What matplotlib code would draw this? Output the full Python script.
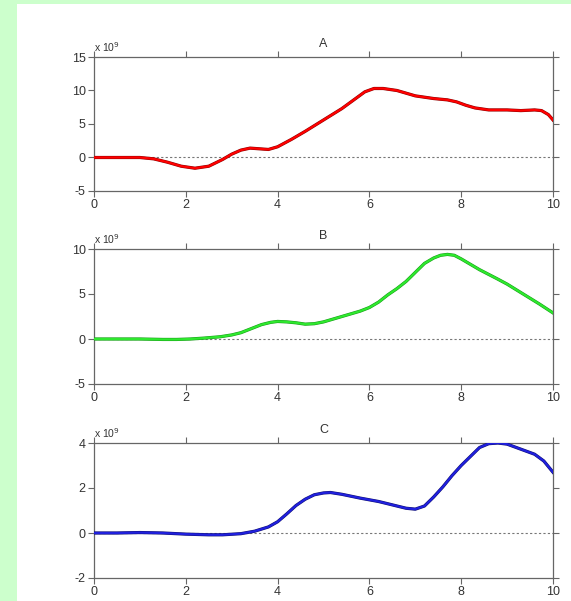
import matplotlib
matplotlib.use("Agg")
import matplotlib.pyplot as plt
import matplotlib.patches as mpatches
import matplotlib.patheffects as pe

plt.rcParams['font.family'] = ['Liberation Sans', 'DejaVu Sans']
plt.rcParams['axes.unicode_minus'] = False

# values in units of 1e9
xa = [0, 0.5, 1.0, 1.3, 1.6, 1.9, 2.2, 2.5, 2.8, 3.0, 3.2, 3.4, 3.6, 3.8, 4.0,
      4.3, 4.6, 5.0, 5.4, 5.7, 5.9, 6.1, 6.3, 6.6, 7.0, 7.4, 7.7, 7.9, 8.1,
      8.3, 8.6, 9.0, 9.3, 9.6, 9.75, 9.9, 10.0]
ya = [0, 0, 0, -0.2, -0.7, -1.3, -1.6, -1.3, -0.3, 0.5, 1.1, 1.4, 1.3, 1.2, 1.6,
      2.7, 3.9, 5.6, 7.3, 8.8, 9.8, 10.3, 10.3, 10.0, 9.2, 8.8, 8.6, 8.3, 7.8,
      7.4, 7.1, 7.1, 7.0, 7.1, 7.0, 6.4, 5.6]

xb = [0, 0.5, 1.0, 1.5, 1.8, 2.1, 2.4, 2.75, 3.0, 3.2, 3.45, 3.65, 3.85, 4.0,
      4.2, 4.4, 4.6, 4.8, 5.0, 5.4, 5.8, 6.0, 6.2, 6.4, 6.6, 6.8, 7.0, 7.2,
      7.4, 7.55, 7.7, 7.85, 8.0, 8.2, 8.4, 8.78, 9.0, 9.35, 9.7, 10.0]
yb = [0, 0, 0, -0.05, -0.05, 0, 0.1, 0.25, 0.45, 0.7, 1.2, 1.6, 1.85, 1.95,
      1.9, 1.8, 1.65, 1.7, 1.9, 2.5, 3.1, 3.5, 4.1, 4.9, 5.6, 6.4, 7.4, 8.4,
      9.0, 9.3, 9.4, 9.3, 8.9, 8.3, 7.7, 6.7, 6.1, 5.0, 3.9, 2.9]

xc = [0, 0.5, 1.0, 1.5, 2.0, 2.5, 2.8, 3.2, 3.5, 3.8, 4.0, 4.2, 4.4, 4.6, 4.8,
      5.0, 5.15, 5.4, 5.8, 6.2, 6.5, 6.8, 7.0, 7.2, 7.4, 7.6, 7.8, 8.0, 8.2,
      8.4, 8.6, 8.8, 9.0, 9.2, 9.4, 9.6, 9.8, 10.0]
yc = [0, 0, 0.02, 0, -0.05, -0.08, -0.08, -0.03, 0.08, 0.27, 0.5, 0.85, 1.22,
      1.5, 1.7, 1.78, 1.8, 1.72, 1.55, 1.4, 1.25, 1.1, 1.06, 1.2, 1.6, 2.05,
      2.55, 3.0, 3.4, 3.8, 3.97, 4.0, 3.95, 3.8, 3.65, 3.5, 3.2, 2.7]

titles = ['A', 'B', 'C']
ylims = [(-5, 15), (-5, 10), (-2, 4)]
yticks = [[-5, 0, 5, 10, 15], [-5, 0, 5, 10], [-2, 0, 2, 4]]
colors = ['#ff0000', '#2ee82e', '#2020dd']
edges = ['#8a0000', '#169916', '#101070']
xticks = [0, 2, 4, 6, 8, 10]

W, H = 571, 601
fig = plt.figure(figsize=(W / 100, H / 100), dpi=100, facecolor='#ccffcc')
fig.patches.append(mpatches.Rectangle((17 / W, 0), 1, 1 - 4 / H,
                                      transform=fig.transFigure,
                                      facecolor='white', edgecolor='none',
                                      zorder=-10))

# panel tops / bottoms in pixels
tops = [57, 249, 443]
bots = [191, 384, 578]
left, right = 94, 553

series = [(xa, ya), (xb, yb), (xc, yc)]
spine_col = '#666666'
text_col = '#333333'

for i in range(3):
    ax = fig.add_axes([left / W, 1 - bots[i] / H, (right - left) / W,
                       (bots[i] - tops[i]) / H])
    ax.set_facecolor('white')
    x, y = series[i]
    ax.axhline(0, color='#777777', lw=0.8, ls=(0, (2, 2)), zorder=1)
    ax.plot(x, y, color=colors[i], lw=1.6, zorder=3, solid_joinstyle='round',
            path_effects=[pe.Stroke(linewidth=2.3, foreground=edges[i]),
                          pe.Normal()])
    ax.set_xlim(0, 10)
    ax.set_ylim(*ylims[i])
    ax.set_xticks(xticks)
    ax.set_yticks(yticks[i])
    ax.tick_params(direction='out', length=4, width=0.8, colors=spine_col,
                   labelcolor=text_col, labelsize=9, pad=2,
                   top=True, right=True)
    for s in ax.spines.values():
        s.set_color(spine_col)
        s.set_linewidth(0.9)
    ax.set_title(titles[i], fontsize=9, color=text_col, pad=7)
    ax.text(0.0, 1.02, 'x 10$^{9}$', transform=ax.transAxes, fontsize=7.5,
            color=text_col, ha='left', va='bottom')

fig.savefig('out.png', dpi=100, facecolor=fig.get_facecolor())
